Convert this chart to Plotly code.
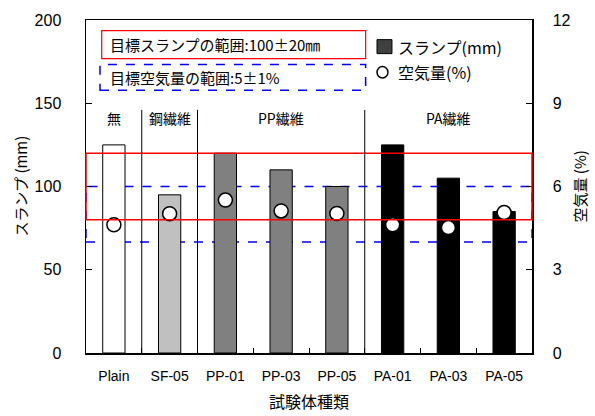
import plotly.graph_objects as go

categories = ["Plain", "SF-05", "PP-01", "PP-03", "PP-05", "PA-01", "PA-03", "PA-05"]
slump_mm = [125, 95, 120, 110, 100, 125, 105, 85]
air_pct = [4.62, 5.02, 5.51, 5.12, 5.03, 4.62, 4.52, 5.06]
bar_colors = ["#ffffff", "#c0c0c0", "#808080", "#808080", "#808080", "#000000", "#000000", "#000000"]

slump_target = [80, 120]
air_target = [4, 6]
separator_positions = [0.5, 1.5, 4.5]
separator_top = 146
group_labels = ["無", "鋼繊維", "PP繊維", "PA繊維"]
group_label_x = [0, 1, 3, 6]
group_label_y = 141

left_ticks = [0, 50, 100, 150, 200]
right_ticks = [0, 3, 6, 9, 12]

FONT = "Liberation Sans, Arial, Noto Sans CJK JP"
JP = "Noto Sans CJK JP, Liberation Sans"

fig = go.Figure()
fig.add_trace(go.Bar(
    x=categories, y=slump_mm, width=0.4,
    marker=dict(color=bar_colors, line=dict(color="black", width=1)),
    showlegend=False, hoverinfo="skip",
))
fig.add_trace(go.Scatter(
    x=categories, y=air_pct, yaxis="y2", mode="markers",
    marker=dict(size=14, color="white", line=dict(color="black", width=1.5)),
    showlegend=False, hoverinfo="skip",
))

shapes = []
# blue dashed target band (behind bars)
shapes.append(dict(type="rect", xref="paper", x0=0, x1=1, yref="y2",
                   y0=air_target[0], y1=air_target[1],
                   line=dict(color="#0000ff", width=1.5, dash="dash"), layer="below"))
# red target band (above)
shapes.append(dict(type="rect", xref="paper", x0=0, x1=1, yref="y",
                   y0=slump_target[0], y1=slump_target[1],
                   line=dict(color="#ff0000", width=1.5), layer="above"))
for sx in separator_positions:
    shapes.append(dict(type="line", xref="x", yref="y", x0=sx, x1=sx, y0=0, y1=separator_top,
                       line=dict(color="black", width=1)))
# legend-like boxes
shapes.append(dict(type="rect", xref="paper", yref="paper", x0=0.0352, x1=0.627, y0=0.884, y1=0.968,
                   line=dict(color="#ff0000", width=1.2), fillcolor="white"))
shapes.append(dict(type="rect", xref="paper", yref="paper", x0=0.0314, x1=0.627, y0=0.789, y1=0.866,
                   line=dict(color="#0000ff", width=1.5, dash="dash"), fillcolor="white"))
# legend markers
shapes.append(dict(type="rect", xref="paper", yref="paper", x0=0.6525, x1=0.686, y0=0.899, y1=0.941,
                   line=dict(color="black", width=1), fillcolor="#404040"))
shapes.append(dict(type="circle", xref="paper", yref="paper", x0=0.6525, x1=0.677, y0=0.826, y1=0.860,
                   line=dict(color="black", width=1.5), fillcolor="white"))

annotations = []
for t, gx in zip(group_labels, group_label_x):
    annotations.append(dict(text=t, x=gx, y=group_label_y, xref="x", yref="y", showarrow=False,
                            font=dict(family=JP, size=14, color="black")))
annotations.append(dict(text="目標スランプの範囲:100±20㎜", xref="paper", yref="paper",
                        x=(108 - 86) / 446, y=(353 - 41) / 337, xanchor="left", yanchor="middle",
                        showarrow=False, font=dict(family=JP, size=15, color="black")))
annotations.append(dict(text="目標空気量の範囲:5±1%", xref="paper", yref="paper",
                        x=(108 - 86) / 446, y=(353 - 74) / 337, xanchor="left", yanchor="middle",
                        showarrow=False, font=dict(family=JP, size=15, color="black")))
annotations.append(dict(text="スランプ(mm)", xref="paper", yref="paper",
                        x=(396 - 86) / 446, y=(353 - 43) / 337, xanchor="left", yanchor="middle",
                        showarrow=False, font=dict(family=JP, size=16, color="black")))
annotations.append(dict(text="空気量(%)", xref="paper", yref="paper",
                        x=(396 - 86) / 446, y=(353 - 69) / 337, xanchor="left", yanchor="middle",
                        showarrow=False, font=dict(family=JP, size=16, color="black")))
# axis titles
annotations.append(dict(text="スランプ (mm)", xref="paper", yref="paper",
                        x=(20 - 86) / 446, y=0.5, xanchor="center", yanchor="middle", textangle=-90,
                        showarrow=False, font=dict(family=JP, size=15, color="black")))
annotations.append(dict(text="空気量 (%)", xref="paper", yref="paper",
                        x=(579 - 86) / 446, y=0.5, xanchor="center", yanchor="middle", textangle=-90,
                        showarrow=False, font=dict(family=JP, size=15, color="black")))
annotations.append(dict(text="試験体種類", xref="paper", yref="paper",
                        x=0.5, y=(353 - 402) / 337, xanchor="center", yanchor="middle",
                        showarrow=False, font=dict(family=JP, size=16, color="black")))

fig.update_layout(
    width=595, height=416,
    margin=dict(l=86, r=63, t=16, b=63),
    paper_bgcolor="white", plot_bgcolor="white",
    font=dict(family=FONT, size=14, color="black"),
    shapes=shapes, annotations=annotations,
    bargap=0.6,
    xaxis=dict(type="category", tickson="boundaries", ticks="inside", ticklen=5,
               tickcolor="black", showline=True, linecolor="black", linewidth=1.5,
               mirror=True, showgrid=False, tickfont=dict(size=14),
               ticklabelstandoff=10, range=[-0.5, 7.5]),
    yaxis=dict(range=[0, 200], tickvals=left_ticks, ticks="inside", ticklen=6,
               tickcolor="black", showline=True, linecolor="black", linewidth=1.5,
               showgrid=False, zeroline=False, tickfont=dict(size=16),
               ticklabelstandoff=20),
    yaxis2=dict(range=[0, 12], tickvals=right_ticks, ticks="inside", ticklen=6,
                tickcolor="black", showline=True, linecolor="black", linewidth=1.5,
                overlaying="y", side="right", showgrid=False, zeroline=False,
                tickfont=dict(size=16), ticklabelstandoff=16),
)

fig.write_html("out.html",
               config={"displayModeBar": False, "staticPlot": True},
               post_script="document.body.style.margin='0px';document.body.style.padding='0px';")
